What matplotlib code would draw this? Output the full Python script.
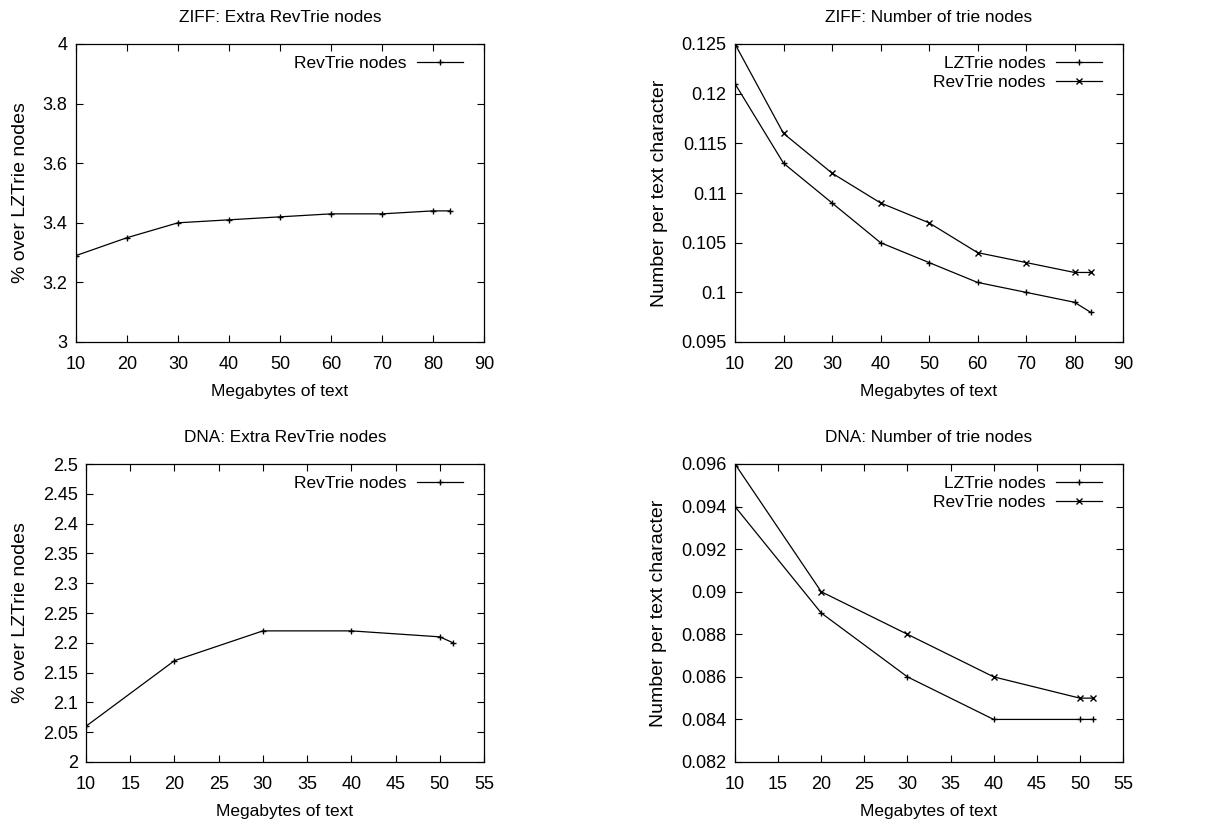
import numpy as np
import matplotlib
matplotlib.use('Agg')
import matplotlib.pyplot as plt

plt.rcParams['font.family'] = ['Liberation Sans', 'DejaVu Sans']
plt.rcParams['font.size'] = 12.5

# ZIFF data
ziff_mb = [10, 20, 30, 40, 50, 60, 70, 80, 83.3]
ziff_extra = [3.29, 3.35, 3.40, 3.41, 3.42, 3.43, 3.43, 3.44, 3.44]
ziff_lz = [0.121, 0.113, 0.109, 0.105, 0.103, 0.101, 0.100, 0.099, 0.098]
ziff_rev = [0.125, 0.116, 0.112, 0.109, 0.107, 0.104, 0.103, 0.102, 0.102]

# DNA data
dna_mb = [10, 20, 30, 40, 50, 51.5]
dna_extra = [2.06, 2.17, 2.22, 2.22, 2.21, 2.20]
dna_lz = [0.094, 0.089, 0.086, 0.084, 0.084, 0.084]
dna_rev = [0.096, 0.090, 0.088, 0.086, 0.085, 0.085]

fig = plt.figure(figsize=(12.3, 8.27), dpi=100)
W, H = 1230.0, 827.0

def make_ax(l, t, r, b):
    return fig.add_axes([l / W, 1 - b / H, (r - l) / W, (b - t) / H])

ax1 = make_ax(76, 44, 484, 342)
ax2 = make_ax(735, 44, 1123, 342)
ax3 = make_ax(86, 464, 484, 762)
ax4 = make_ax(735, 464, 1123, 762)

lw = 0.9
ms = 5

ax1.plot(ziff_mb, ziff_extra, 'k-', marker='+', lw=lw, ms=ms, label='RevTrie nodes')
ax1.set_xlim(10, 90)
ax1.set_ylim(3, 4)
ax1.set_xticks(np.arange(10, 91, 10))
ax1.set_yticks([3, 3.2, 3.4, 3.6, 3.8, 4])
ax1.set_yticklabels(['3', '3.2', '3.4', '3.6', '3.8', '4'])
ax1.set_title('ZIFF: Extra RevTrie nodes')
ax1.set_ylabel('% over LZTrie nodes')

ax2.plot(ziff_mb, ziff_lz, 'k-', marker='+', lw=lw, ms=ms, label='LZTrie nodes')
ax2.plot(ziff_mb, ziff_rev, 'k-', marker='x', lw=lw, ms=ms - 1, label='RevTrie nodes')
ax2.set_xlim(10, 90)
ax2.set_ylim(0.095, 0.125)
ax2.set_xticks(np.arange(10, 91, 10))
ax2.set_yticks([0.095, 0.1, 0.105, 0.11, 0.115, 0.12, 0.125])
ax2.set_yticklabels(['0.095', '0.1', '0.105', '0.11', '0.115', '0.12', '0.125'])
ax2.set_title('ZIFF: Number of trie nodes')
ax2.set_ylabel('Number per text character')

ax3.plot(dna_mb, dna_extra, 'k-', marker='+', lw=lw, ms=ms, label='RevTrie nodes')
ax3.set_xlim(10, 55)
ax3.set_ylim(2, 2.5)
ax3.set_xticks(np.arange(10, 56, 5))
ax3.set_yticks(np.arange(2, 2.501, 0.05))
ax3.set_yticklabels(['2', '2.05', '2.1', '2.15', '2.2', '2.25', '2.3', '2.35', '2.4', '2.45', '2.5'])
ax3.set_title('DNA: Extra RevTrie nodes')
ax3.set_ylabel('% over LZTrie nodes')

ax4.plot(dna_mb, dna_lz, 'k-', marker='+', lw=lw, ms=ms, label='LZTrie nodes')
ax4.plot(dna_mb, dna_rev, 'k-', marker='x', lw=lw, ms=ms - 1, label='RevTrie nodes')
ax4.set_xlim(10, 55)
ax4.set_ylim(0.082, 0.096)
ax4.set_xticks(np.arange(10, 56, 5))
ax4.set_yticks([0.082, 0.084, 0.086, 0.088, 0.09, 0.092, 0.094, 0.096])
ax4.set_yticklabels(['0.082', '0.084', '0.086', '0.088', '0.09', '0.092', '0.094', '0.096'])
ax4.set_title('DNA: Number of trie nodes')
ax4.set_ylabel('Number per text character')

for ax in [ax1, ax2, ax3, ax4]:
    ax.set_xlabel('Megabytes of text', labelpad=8)
    ax.set_title(ax.get_title(), fontsize=12.4, pad=16)
    ax.yaxis.label.set_fontsize(14)
    ax.yaxis.labelpad = 10
    ax.tick_params(direction='in', top=True, right=True, length=5, width=0.8, labelsize=13)
    ax.tick_params(axis='x', pad=10)
    ax.tick_params(axis='y', pad=6)
    for s in ax.spines.values():
        s.set_linewidth(0.9)
    axw = ax.get_position().width * W
    ax.legend(loc='upper right', bbox_to_anchor=(1 - 9 / axw, 1), frameon=False,
              markerfirst=False, handlelength=2.65, fontsize=12.5,
              borderaxespad=0.3, labelspacing=0.2, handletextpad=0.6)

fig.savefig('out.png', dpi=100)
